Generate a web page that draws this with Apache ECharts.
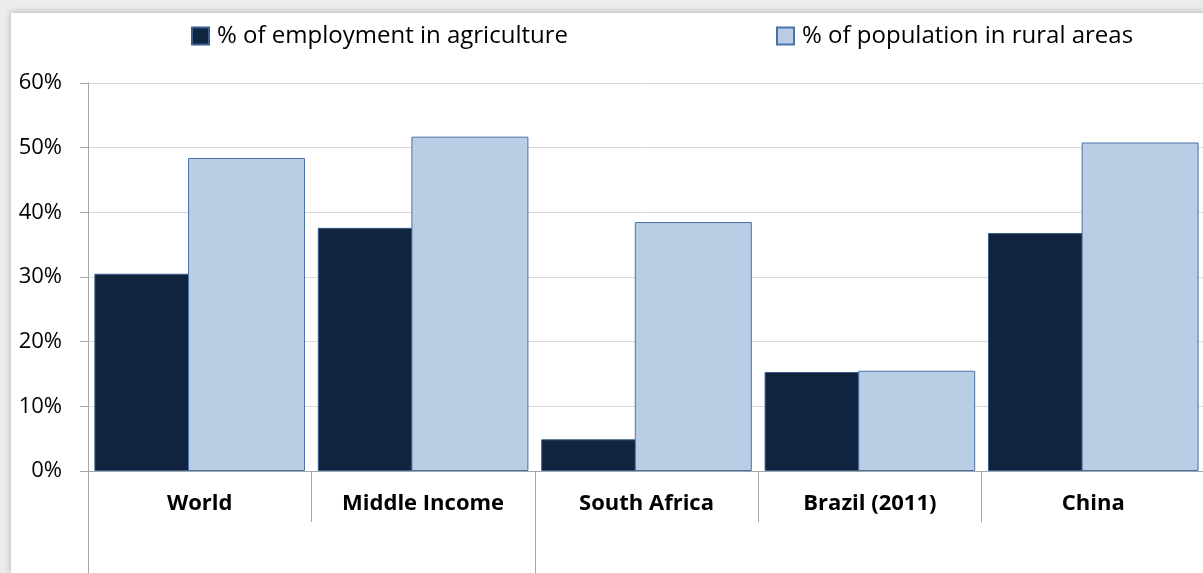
<!DOCTYPE html>
<html>
<head>
<meta charset="utf-8">
<script src="https://cdn.jsdelivr.net/npm/echarts@6/dist/echarts.min.js"></script>
<style>
  html, body { margin: 0; padding: 0; width: 1203px; height: 573px; overflow: hidden; background: #ececec; }
  #chart { position: absolute; left: 11px; top: 13px; width: 1194px; height: 560px; background: #fff;
           box-shadow: 0 0 7px rgba(0,0,0,0.28); }
</style>
</head>
<body>
<div id="chart"></div>
<script>
// data
const categories = ['World', 'Middle Income', 'South Africa', 'Brazil (2011)', 'China'];
const employmentAgri = [30.5, 37.6, 4.9, 15.3, 36.8];
const ruralPopulation = [48.4, 51.7, 38.5, 15.5, 50.8];
const seriesNames = ['% of employment in agriculture', '% of population in rural areas'];
// outer group boundaries (category index where a group starts / ends)
const groupBounds = [0, 2];

const FONT = '"Open Sans", "Noto Sans", sans-serif';

const chart = echarts.init(document.getElementById('chart'));
chart.setOption({
  animation: false,
  textStyle: { fontFamily: FONT },
  legend: {
    top: 6,
    left: 175,
    itemWidth: 17,
    itemHeight: 17,
    itemGap: 208,
    icon: 'rect',
    textStyle: { fontSize: 24, color: '#000', fontFamily: FONT, padding: [0, 0, 0, 3] },
    data: seriesNames
  },
  grid: { left: 77, right: 0, top: 70, bottom: 102 },
  xAxis: [{
    type: 'category',
    data: categories,
    axisLine: { lineStyle: { color: '#a6a6a6', width: 1 } },
    axisTick: { show: true, length: 51, lineStyle: { color: '#a6a6a6' } },
    axisLabel: { fontSize: 22, fontWeight: 'bold', color: '#000', margin: 22, fontFamily: FONT }
  }, {
    type: 'value',
    position: 'bottom',
    min: 0,
    max: categories.length,
    axisLine: { show: false },
    splitLine: { show: false },
    axisLabel: { show: false },
    axisTick: { show: true, customValues: groupBounds, length: 110, lineStyle: { color: '#a6a6a6' } }
  }],
  yAxis: {
    type: 'value',
    min: 0,
    max: 60,
    interval: 10,
    axisLine: { show: true, lineStyle: { color: '#a6a6a6' } },
    axisTick: { show: true, length: 8, lineStyle: { color: '#a6a6a6' } },
    splitLine: { lineStyle: { color: '#d9d9d9' } },
    axisLabel: { formatter: '{value}%', fontSize: 22, color: '#000', margin: 26, fontFamily: FONT }
  },
  series: [{
    name: seriesNames[0],
    type: 'bar',
    data: employmentAgri,
    barWidth: 117,
    barGap: '-20%',
    itemStyle: { color: '#10243f', borderColor: '#385d8a', borderWidth: 1 }
  }, {
    name: seriesNames[1],
    type: 'bar',
    data: ruralPopulation,
    barWidth: 117,
    barGap: '-20%',
    itemStyle: { color: '#b9cde5', borderColor: '#4a72a6', borderWidth: 1 }
  }]
});
</script>
</body>
</html>
